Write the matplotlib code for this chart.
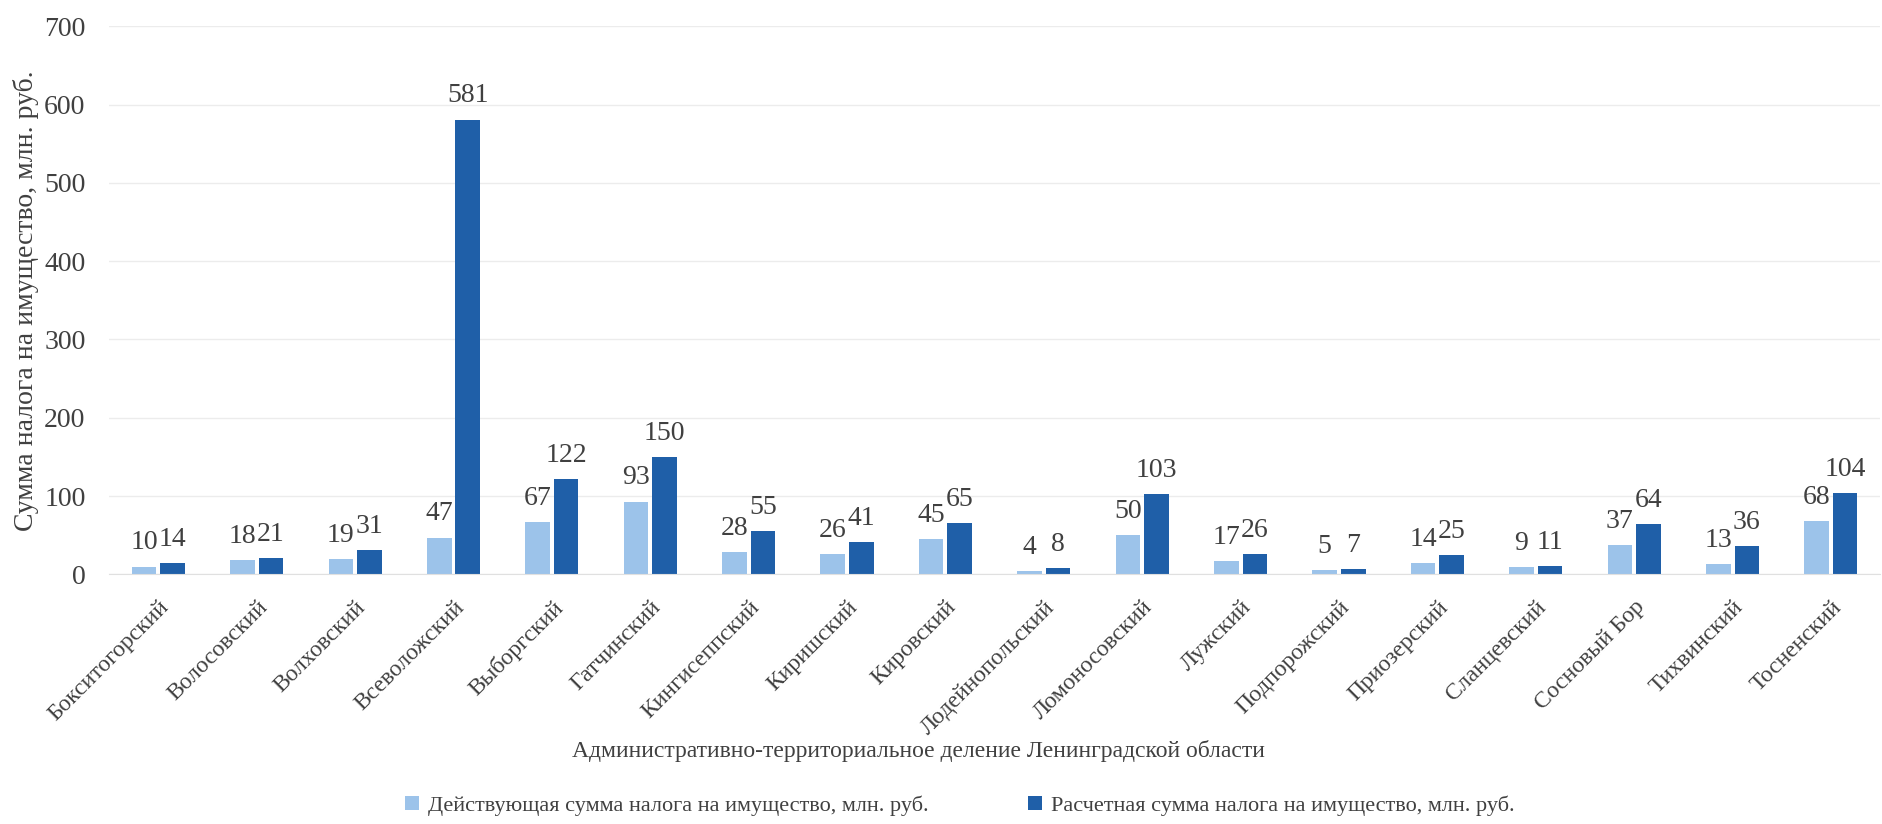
import numpy as np
import matplotlib
matplotlib.use('Agg')
import matplotlib.pyplot as plt

# %% DATA
districts = ['Бокситогорский', 'Волосовский', 'Волховский', 'Всеволожский', 'Выборгский',
             'Гатчинский', 'Кингисеппский', 'Киришский', 'Кировский', 'Лодейнопольский',
             'Ломоносовский', 'Лужский', 'Подпорожский', 'Приозерский', 'Сланцевский',
             'Сосновый Бор', 'Тихвинский', 'Тосненский']
actual_tax = [10, 18, 19, 47, 67, 93, 28, 26, 45, 4, 50, 17, 5, 14, 9, 37, 13, 68]
estimated_tax = [14, 21, 31, 581, 122, 150, 55, 41, 65, 8, 103, 26, 7, 25, 11, 64, 36, 104]
yticks = [0, 100, 200, 300, 400, 500, 600, 700]

# %% STYLE
plt.rcParams['font.family'] = ['Liberation Serif', 'DejaVu Serif']
text_color = '#404040'
light_blue = '#9cc3ea'
dark_blue = '#1f5fa8'

# %% PLOT
fig = plt.figure(figsize=(18.82, 8.24), dpi=100)
ax = fig.add_axes([0.058, 0.303, 0.941, 0.665])

x = np.arange(len(districts))
w = 0.25
b1 = ax.bar(x - 0.145, actual_tax, w, color=light_blue, label='Действующая сумма налога на имущество, млн. руб.')
b2 = ax.bar(x + 0.145, estimated_tax, w, color=dark_blue, label='Расчетная сумма налога на имущество, млн. руб.')
ax.bar_label(b1, padding=8, fontsize=20, color=text_color)
ax.bar_label(b2, padding=8, fontsize=20, color=text_color)

ax.set_xlim(-0.5, len(districts) - 0.5)
ax.set_ylim(0, 700)
ax.set_yticks(yticks)
ax.tick_params(axis='y', labelsize=20, colors=text_color, length=0, pad=17)
ax.set_xticks(x)
ax.set_xticklabels(districts, rotation=45, ha='right', rotation_mode='anchor', fontsize=17, color=text_color)
ax.tick_params(axis='x', length=0, pad=16)

ax.grid(axis='y', color='#ececec', linewidth=1)
ax.set_axisbelow(True)
for s in ['top', 'right', 'left']:
    ax.spines[s].set_visible(False)
ax.spines['bottom'].set_color('#e0e0e0')

ax.set_ylabel('Сумма налога на имущество, млн. руб.', fontsize=20, color=text_color, labelpad=4)
fig.text(0.488, 0.088, 'Административно-территориальное деление Ленинградской области',
         ha='center', va='center', fontsize=17, color=text_color)

fig.legend(loc='center', bbox_to_anchor=(0.51, 0.022), ncol=2, frameon=False, fontsize=16,
           handlelength=0.6, handleheight=0.6, handletextpad=0.4, columnspacing=4.5,
           labelcolor=text_color)

fig.savefig('out.png', dpi=100)
